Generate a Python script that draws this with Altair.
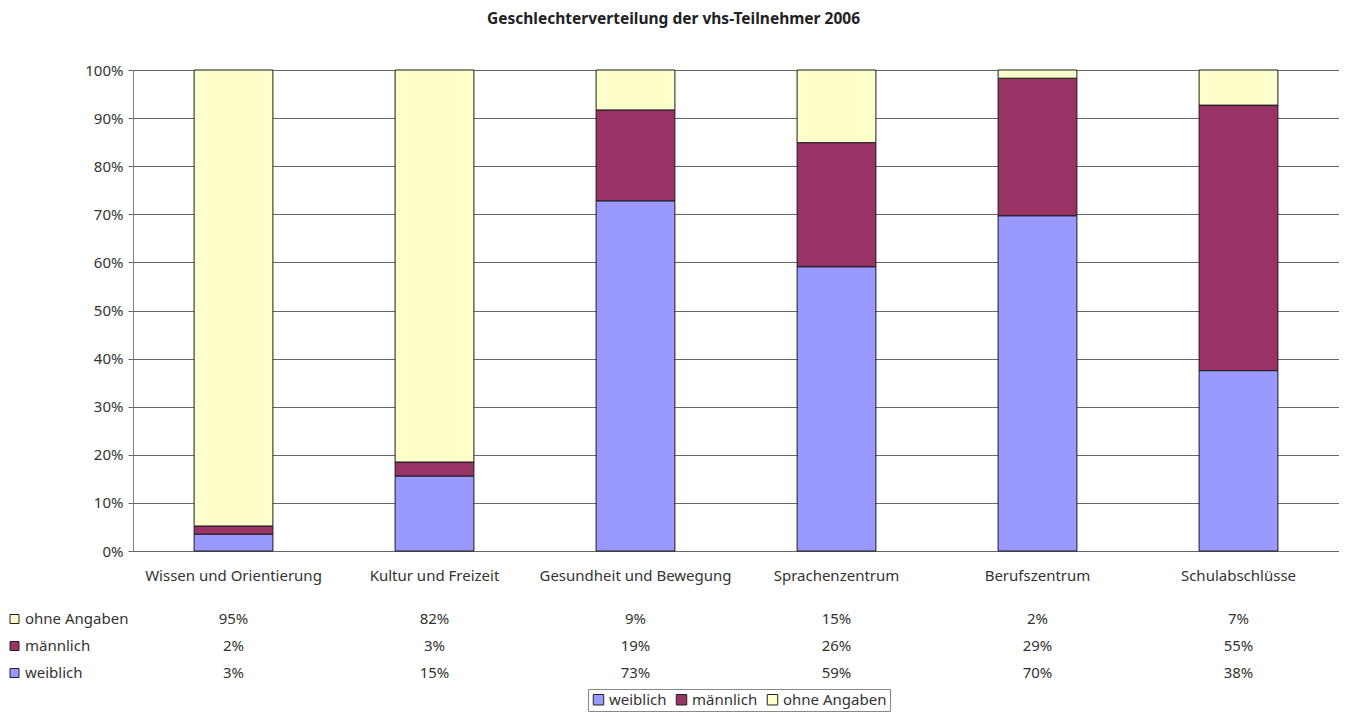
import altair as alt
import pandas as pd

categories = ["Wissen und Orientierung", "Kultur und Freizeit", "Gesundheit und Bewegung",
              "Sprachenzentrum", "Berufszentrum", "Schulabschlüsse"]
series = ["weiblich", "männlich", "ohne Angaben"]
weiblich = [3.5, 15.6, 72.8, 59.1, 69.7, 37.5]
maennlich = [1.7, 2.9, 18.9, 25.8, 28.6, 55.2]
ohne_angaben = [94.8, 81.5, 8.3, 15.1, 1.7, 7.3]
label_weiblich = ["3%", "15%", "73%", "59%", "70%", "38%"]
label_maennlich = ["2%", "3%", "19%", "26%", "29%", "55%"]
label_ohne = ["95%", "82%", "9%", "15%", "2%", "7%"]
colors = ["#9999FF", "#993366", "#FFFFCC"]
y_ticks = [0, 0.1, 0.2, 0.3, 0.4, 0.5, 0.6, 0.7, 0.8, 0.9, 1.0]

FONT = "Noto Sans"
TXT = "#333333"
FS = 15
W, H = 1206, 481

rows = []
for s_i, (name, vals) in enumerate(zip(series, [weiblich, maennlich, ohne_angaben])):
    for c, v in zip(categories, vals):
        rows.append({"Kategorie": c, "Geschlecht": name, "Anteil": v / 100.0, "ord": s_i})
df = pd.DataFrame(rows)

xenc = alt.X("Kategorie:N", sort=categories,
             scale=alt.Scale(paddingInner=0.608, paddingOuter=0.304),
             axis=alt.Axis(title=None, labelAngle=0, ticks=False, domain=False,
                           labelPadding=17, labelFontSize=FS, labelColor=TXT, labelFont=FONT,
                           labelLimit=400))

bars = alt.Chart(df).mark_bar(stroke="#1a1a1a", strokeWidth=1).encode(
    x=xenc,
    y=alt.Y("Anteil:Q", stack="zero",
            scale=alt.Scale(domain=[0, 1], nice=False),
            axis=alt.Axis(title=None, values=y_ticks, format=".0%", grid=True,
                          gridColor="#666666", gridWidth=1.2, tickColor="#666666",
                          tickSize=5, domainColor="#808080", labelFontSize=FS,
                          labelColor=TXT, labelPadding=5, labelFont=FONT)),
    color=alt.Color("Geschlecht:N",
                    scale=alt.Scale(domain=series, range=colors),
                    legend=alt.Legend(orient="none", legendX=455, legendY=619,
                                      direction="horizontal", title=None,
                                      symbolType="square", symbolSize=110,
                                      symbolStrokeColor="#222222", symbolStrokeWidth=1,
                                      labelFontSize=FS, labelColor=TXT, labelFont=FONT,
                                      strokeColor="#888888", padding=3,
                                      columnPadding=7, labelOffset=3)),
    order=alt.Order("ord:Q"),
)

layers = [bars]

table_rows = [
    ("ohne Angaben", label_ohne, colors[2], 549),
    ("männlich", label_maennlich, colors[1], 576),
    ("weiblich", label_weiblich, colors[0], 603),
]
for name, labels, col, ypos in table_rows:
    tdf = pd.DataFrame({"Kategorie": categories, "Label": labels})
    layers.append(
        alt.Chart(tdf).mark_text(fontSize=FS, color=TXT, font=FONT).encode(
            x=alt.X("Kategorie:N", sort=categories),
            y=alt.value(ypos),
            text="Label:N",
        )
    )
    ndf = pd.DataFrame({"Reihe": [name]})
    layers.append(
        alt.Chart(ndf).mark_text(fontSize=FS, color=TXT, font=FONT, align="left").encode(
            x=alt.value(-108), y=alt.value(ypos), text="Reihe:N"
        )
    )
    layers.append(
        alt.Chart(ndf).mark_square(size=81, filled=True, stroke="#222222",
                                   strokeWidth=1, opacity=1).encode(
            x=alt.value(-118.5), y=alt.value(ypos), color=alt.value(col)
        )
    )

chart = alt.layer(*layers).properties(
    width=W, height=H,
    padding={"left": 0, "top": 3, "right": 0, "bottom": 0},
    title=alt.TitleParams("Geschlechterverteilung der vhs-Teilnehmer 2006",
                          fontSize=15.5, fontWeight="bold", anchor="middle",
                          frame="bounds", offset=36, color="#222222", font=FONT),
).configure_view(
    fill="#C0C0C0", stroke="#8a8a8a", strokeWidth=1
).configure(font=FONT)

chart.save("out.html", embed_options={"renderer": "svg", "actions": False})
